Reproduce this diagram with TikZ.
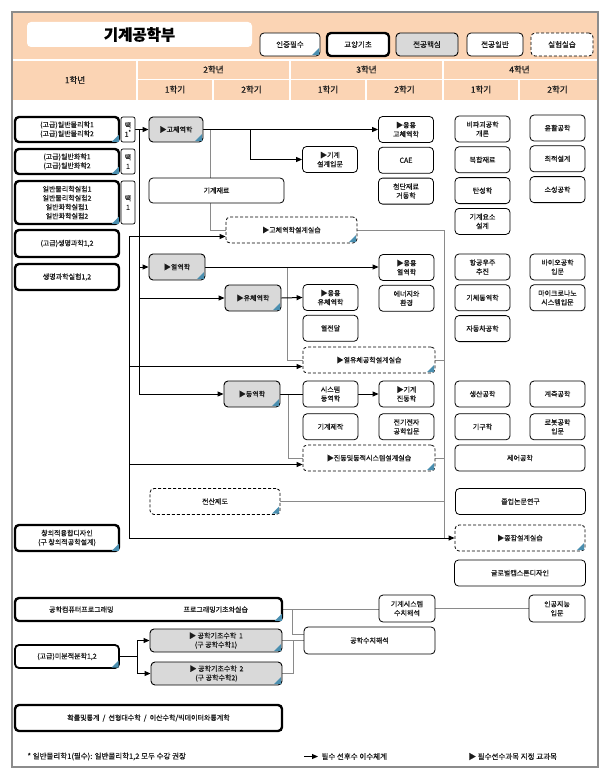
\documentclass[tikz,border=0pt]{standalone}
\usepackage{fontspec}
\setmainfont{Noto Sans CJK KR}[FakeBold=0.5]
\usetikzlibrary{arrows.meta,positioning,backgrounds}
\definecolor{cPeach}{HTML}{FBD4B4}
\definecolor{cFrame}{HTML}{8C8C8C}
\definecolor{cCore}{HTML}{D9D9D9}
\definecolor{cTri}{HTML}{4A8FB0}
\definecolor{cLine}{HTML}{8A8A8A}
\definecolor{cText}{HTML}{1A1A1A}

\newcommand{\certmark}[1]{%
  \fill[cTri] ([xshift=-1.4pt,yshift=1.4pt]#1.south east) -- ++(-7pt,0pt) -- ++(7pt,7pt) -- cycle;}

\begin{document}
\begin{tikzpicture}[
  x=1pt, y=-1pt,
  font=\fontsize{7}{9}\selectfont,
  node distance=4pt and 20pt,
  box/.style={draw, rounded corners=4pt, align=center, inner sep=1pt, fill=white, text=cText},
  gyo/.style={box, line width=2.4pt, minimum width=104pt},
  core/.style={box, fill=cCore, line width=0.9pt, minimum width=56pt, minimum height=26pt},
  gen/.style={box, line width=0.8pt, minimum width=55pt, minimum height=26pt},
  lab/.style={box, line width=0.8pt, dash pattern=on 3pt off 2pt, minimum height=26pt},
  selbox/.style={box, line width=0.7pt, rounded corners=2pt, minimum width=14pt},
  arr/.style={-{Triangle[length=6pt,width=5pt]}, line width=1pt},
  bline/.style={line width=1pt},
  gline/.style={line width=0.8pt, cLine},
  head/.style={font=\fontsize{8.5}{10}\selectfont, text=cText},
  foot/.style={font=\fontsize{7.5}{9}\selectfont, text=cText, anchor=west},
]
\useasboundingbox (0,0) rectangle (611,781);

% ---------- header ----------
\fill[cPeach] (13,13) rectangle (597,100);
\draw[white, line width=1.5pt] (13,60) -- (597,60);
\draw[white, line width=1.5pt] (137,79.5) -- (597,79.5);
\foreach \x in {137,290,443} \draw[white, line width=1.5pt] (\x,60) -- (\x,100);
\foreach \x in {213,366,519} \draw[white, line width=1.5pt] (\x,79.5) -- (\x,100);
\draw[cFrame, line width=2pt] (12,12) rectangle (598,767);

\node[fill=white, rounded corners=4pt, minimum width=225pt, minimum height=25pt,
      font=\fontsize{15.5}{18}\selectfont\bfseries] (title) at (139.5,34.5) {기계공학부};

\node[gen, minimum width=60pt, minimum height=23pt, font=\fontsize{7.5}{9}\selectfont] (lgcert) at (290,44.5) {인증필수};
\node[gyo, minimum width=62pt, minimum height=23pt, font=\fontsize{7.5}{9}\selectfont] (lggyo) at (358,44.5) {교양기초};
\node[core, minimum width=62pt, minimum height=23pt, font=\fontsize{7.5}{9}\selectfont] (lgcore) at (427,44.5) {전공핵심};
\node[gen, minimum width=56pt, minimum height=23pt, font=\fontsize{7.5}{9}\selectfont] (lggen) at (495,44.5) {전공일반};
\node[lab, minimum width=62pt, minimum height=23pt, font=\fontsize{7.5}{9}\selectfont] (lglab) at (562,44.5) {실험실습};

\node[head] (yr1) at (75,80) {1학년};
\foreach \x/\t [count=\i from 2] in {213.5/2학년,366.5/3학년,519.5/4학년}
  \node[head] (yr\i) at (\x,69.5) {\t};
\foreach \x/\t [count=\i] in {175/1학기,251.5/2학기,328/1학기,404.5/2학기,481/1학기,557.5/2학기}
  \node[head] (sem\i) at (\x,89.5) {\t};

% ---------- 1st year ----------
\node[gyo, minimum height=25pt] (phys) at (67,129.5) {(고급)일반물리학1\\(고급)일반물리학2};
\node[gyo, minimum height=25pt] (chem) at (67,161.5) {(고급)일반화학1\\(고급)일반화학2};
\node[gyo, minimum height=43pt] (exp) at (67,202.5) {일반물리학실험1\\일반물리학실험2\\일반화학실험1\\일반화학실험2};
\node[gyo, minimum height=27pt] (bio) at (67,243.5) {(고급)생명과학1,2};
\node[gyo, minimum height=26pt] (biolab) at (67,277) {생명과학실험1,2};
\node[selbox, minimum height=25pt] (sel1) at (128,129.5) {택\\1\textsuperscript{*}};
\node[selbox, minimum height=25pt] (sel2) at (128,161.5) {택\\1};
\node[selbox, minimum height=43pt] (sel3) at (128,202.5) {택\\1};
\node[gyo, minimum height=26pt] (creative) at (67,538) {창의적융합디자인\\(구 창의적공학설계)};
\node[gyo, minimum width=267pt, minimum height=23pt] (prog) at (148.5,609.5)
  {공학컴퓨터프로그래밍\hspace{70pt}프로그래밍기초와실습};
\node[gyo, line width=1.8pt, minimum height=23pt] (calc) at (67,656.5) {(고급)미분적분학1,2};
\node[gyo, minimum width=267pt, minimum height=26pt] (stat) at (148.5,718)
  {확률및통계 \ / \ 선형대수학 \ / \ 이산수학/빅데이터와통계학};

% ---------- solid mechanics ----------
\node[core, minimum width=54pt, minimum height=25pt] (solid) at (176,129.5) {▶고체역학};
\node[gen, minimum width=135pt, minimum height=25pt] (mat) at (216.5,190.5) {기계재료};
\node[lab, minimum width=131pt] (solidlab) at (291.5,230) {▶고체역학설계실습};
\node[gen] (design) at (330,159.5) {▶기계\\설계입문};
\node[gen] (appsolid) at (406,129.5) {▶응용\\고체역학};
\node[gen, below=of appsolid] (cae) {CAE};
\node[gen, below=of cae] (advmat) {첨단재료\\거동학};
\node[gen] (ndt) at (482.5,129) {비파괴공학\\개론};
\node[gen, below=of ndt] (comp) {복합재료};
\node[gen, below=of comp] (elast) {탄성학};
\node[gen, below=of elast] (elem) {기계요소\\설계};
\node[gen] (tribo) at (557.5,128) {윤활공학};
\node[gen, below=of tribo] (optim) {최적설계};
\node[gen, below=of optim] (plast) {소성공학};

% ---------- thermo / fluid ----------
\node[core] (thermo) at (177,267) {▶열역학};
\node[core] (fluid) at (253,298) {▶유체역학};
\node[gen] (appthermo) at (406.5,267.5) {▶응용\\열역학};
\node[gen, below=of appthermo] (energy) {에너지와\\환경};
\node[gen] (appfluid) at (330.5,297.5) {▶응용\\유체역학};
\node[gen, below=of appfluid] (heat) {열전달};
\node[lab, minimum width=132pt] (tflab) at (369,360) {▶열유체공학설계실습};
\node[gen] (aero) at (482.5,267) {항공우주\\추진};
\node[gen, below=of aero] (gasdyn) {기체동역학};
\node[gen, below=of gasdyn] (auto) {자동차공학};
\node[gen] (bioeng) at (557.5,267) {바이오공학\\입문};
\node[gen, below=of bioeng] (mems) {마이크로나노\\시스템입문};

% ---------- dynamics ----------
\node[core] (dyn) at (252,394) {▶동역학};
\node[gen] (sysdyn) at (330.5,394) {시스템\\동역학};
\node[gen] (vib) at (406.5,394) {▶기계\\진동학};
\node[gen, below=6pt of sysdyn] (manuf) {기계제작};
\node[gen, below=6pt of vib] (elec) {전기전자\\공학입문};
\node[lab, minimum width=132pt] (vlab) at (369,458) {▶진동및동적시스템설계실습};
\node[gen] (prod) at (482.5,394) {생산공학};
\node[gen, below=6pt of prod] (kine) {기구학};
\node[gen] (meas) at (557.5,394) {계측공학};
\node[gen, below=6pt of meas] (robot) {로봇공학\\입문};
\node[gen, minimum width=130pt] (ctrl) at (520,458) {제어공학};

% ---------- design / numerics ----------
\node[lab, minimum width=130pt] (cad) at (215,501.5) {전산제도};
\node[gen, minimum width=130pt] (thesis) at (520.5,501.5) {졸업논문연구};
\node[lab, minimum width=130pt] (capst) at (520,538) {▶종합설계실습};
\node[gen, minimum width=131pt] (global) at (520,573) {글로벌캡스톤디자인};
\node[gen, minimum width=56pt, minimum height=27pt] (numsys) at (407,608.5) {기계시스템\\수치해석};
\node[gen, minimum width=56pt, minimum height=27pt] (ai) at (557,608.5) {인공지능\\입문};
\node[gen, minimum width=131pt, minimum height=27pt] (numeng) at (369.5,640.5) {공학수치해석};
\node[core, minimum width=132pt, minimum height=23pt] (math1) at (216,640.5) {▶ 공학기초수학 \,1\\(구 공학수학1)};
\node[core, minimum width=131pt, minimum height=23pt] (math2) at (216.5,673.5) {▶ 공학기초수학 \,2\\(구 공학수학2)};

\foreach \n in {lgcert,phys,chem,exp,creative,prog,calc,solid,thermo,fluid,dyn,
                math1,math2,solidlab,tflab,vlab,cad,capst}
  {\certmark{\n}}

% ---------- connectors ----------
\begin{scope}[on background layer]
\coordinate (jsolid) at (210,129.5);
\coordinate (jthermo) at (287,267);
\coordinate (jdyn) at (288,394);
\coordinate (rbus) at (444,538);
\draw[gline] (jsolid) |- (solidlab.west);
\draw[gline] (jthermo) |- (tflab.west);
\draw[gline] (jdyn) |- (vlab.west);
\draw[gline] (solidlab.east) -| (rbus);
\draw[gline] (tflab.east) -- (tflab.east -| rbus);
\draw[gline] (vlab.east) -- (vlab.east -| rbus);
\draw[gline] (cad.east) -- (cad.east -| rbus);

\coordinate (jprog) at (292,609.5);
\coordinate (jmath) at (293,640.5);
\draw[gline] (prog.east) -- (prog.east -| numsys.west);
\draw[gline] (jprog) |- ([yshift=6.5pt]numeng.west);
\draw[gline] (math1.east) -- (math1.east -| numeng.west);
\draw[gline] (math2.east) -| (jmath);
\draw[gline] (numsys.east) -- (numsys.east -| ai.west);

\coordinate (spine) at (139,129.5);
\coordinate (jdesign) at (250,129.5);
\coordinate (lbus) at (129,538);
\coordinate (jcalc) at (137,656.5);
\draw[arr] (sel1.east) -- (solid.west);
\draw[arr] (spine) |- (thermo.west);
\draw[arr] (spine) |- (fluid.west);
\draw[arr] (spine) |- (dyn.west);
\draw[arr] (solid.east) -- (appsolid.west);
\draw[arr] (jdesign) |- (design.west);
\draw[arr] (lbus) |- ([yshift=-6.5pt]solidlab.west);
\draw[arr] (lbus) |- ([yshift=-6.5pt]tflab.west);
\draw[arr] (lbus) |- ([yshift=-6.5pt]vlab.west);
\draw[arr] (lbus) -- (capst.west);
\draw[arr] (thermo.east) -- (thermo.east -| appthermo.west);
\draw[arr] (fluid.east) -- (appfluid.west);
\draw[bline] (dyn.east) -- (sysdyn.west);
\draw[arr] (sysdyn.east) -- (vib.west);
\draw[bline] (calc.east) -- (jcalc);
\draw[arr] (jcalc) |- (math1.west);
\draw[arr] (jcalc) |- (math2.west);
\end{scope}

% ---------- notes ----------
\node[foot] (note) at (24,756.5) {* 일반물리학1(필수): 일반물리학1,2 모두 수강 권장};
\node[foot] (legreq) at (318,756.5) {필수 선후수 이수체계};
\coordinate (legtail) at (304,756.5);
\draw[arr] (legtail) -- (legreq.west);
\node[foot] (legpre) at (465,756.5) {▶ 필수선수과목 지정 교과목};

\end{tikzpicture}
\end{document}
